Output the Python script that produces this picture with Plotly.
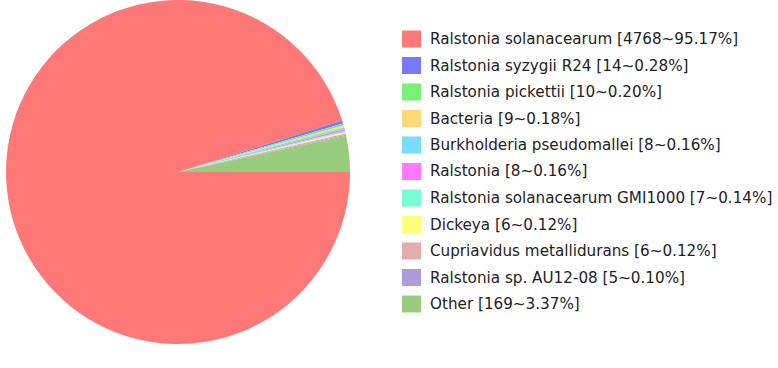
import plotly.graph_objects as go

labels = ["Ralstonia solanacearum", "Ralstonia syzygii R24", "Ralstonia pickettii",
          "Bacteria", "Burkholderia pseudomallei", "Ralstonia",
          "Ralstonia solanacearum GMI1000", "Dickeya", "Cupriavidus metallidurans",
          "Ralstonia sp. AU12-08", "Other"]
counts = [4768, 14, 10, 9, 8, 8, 7, 6, 6, 5, 169]
percents = ["95.17%", "0.28%", "0.20%", "0.18%", "0.16%", "0.16%",
            "0.14%", "0.12%", "0.12%", "0.10%", "3.37%"]
colors = ["#FF7878", "#7878FF", "#78F078", "#FFD878", "#78DCFF", "#FF78FF",
          "#78FCD4", "#FFFF78", "#E4ACAC", "#AC9CD8", "#98CC7C"]

W, H = 778, 368

fig = go.Figure(go.Pie(
    labels=labels, values=counts, sort=False, direction="clockwise", rotation=90,
    marker=dict(colors=colors, line=dict(width=0)),
    textinfo="none", hoverinfo="label+value+percent", showlegend=False,
    domain=dict(x=[5 / W, 351 / W], y=[(H - 344) / H, (H - 0) / H]),
))

# legend drawn as swatches + text
row0, step = 39.0, 26.5
for i, (lab, c, p, col) in enumerate(zip(labels, counts, percents, colors)):
    cy = row0 + i * step
    fig.add_shape(type="rect", xref="paper", yref="paper",
                  x0=402 / W, x1=421 / W, y0=1 - (cy - 8.5) / H, y1=1 - (cy + 8.5) / H,
                  fillcolor=col, line=dict(width=0))
    fig.add_annotation(xref="paper", yref="paper", x=428 / W, y=1 - cy / H,
                       xanchor="left", yanchor="middle", showarrow=False,
                       text=f"{lab} [{c}~{p}]",
                       font=dict(family="DejaVu Sans", size=15.2, color="#222222"))

fig.update_layout(width=W, height=H, margin=dict(l=0, r=0, t=0, b=0),
                  paper_bgcolor="white", plot_bgcolor="white")
fig.write_html("out.html", config={"displayModeBar": False},
               post_script="document.body.style.margin='0px';")
